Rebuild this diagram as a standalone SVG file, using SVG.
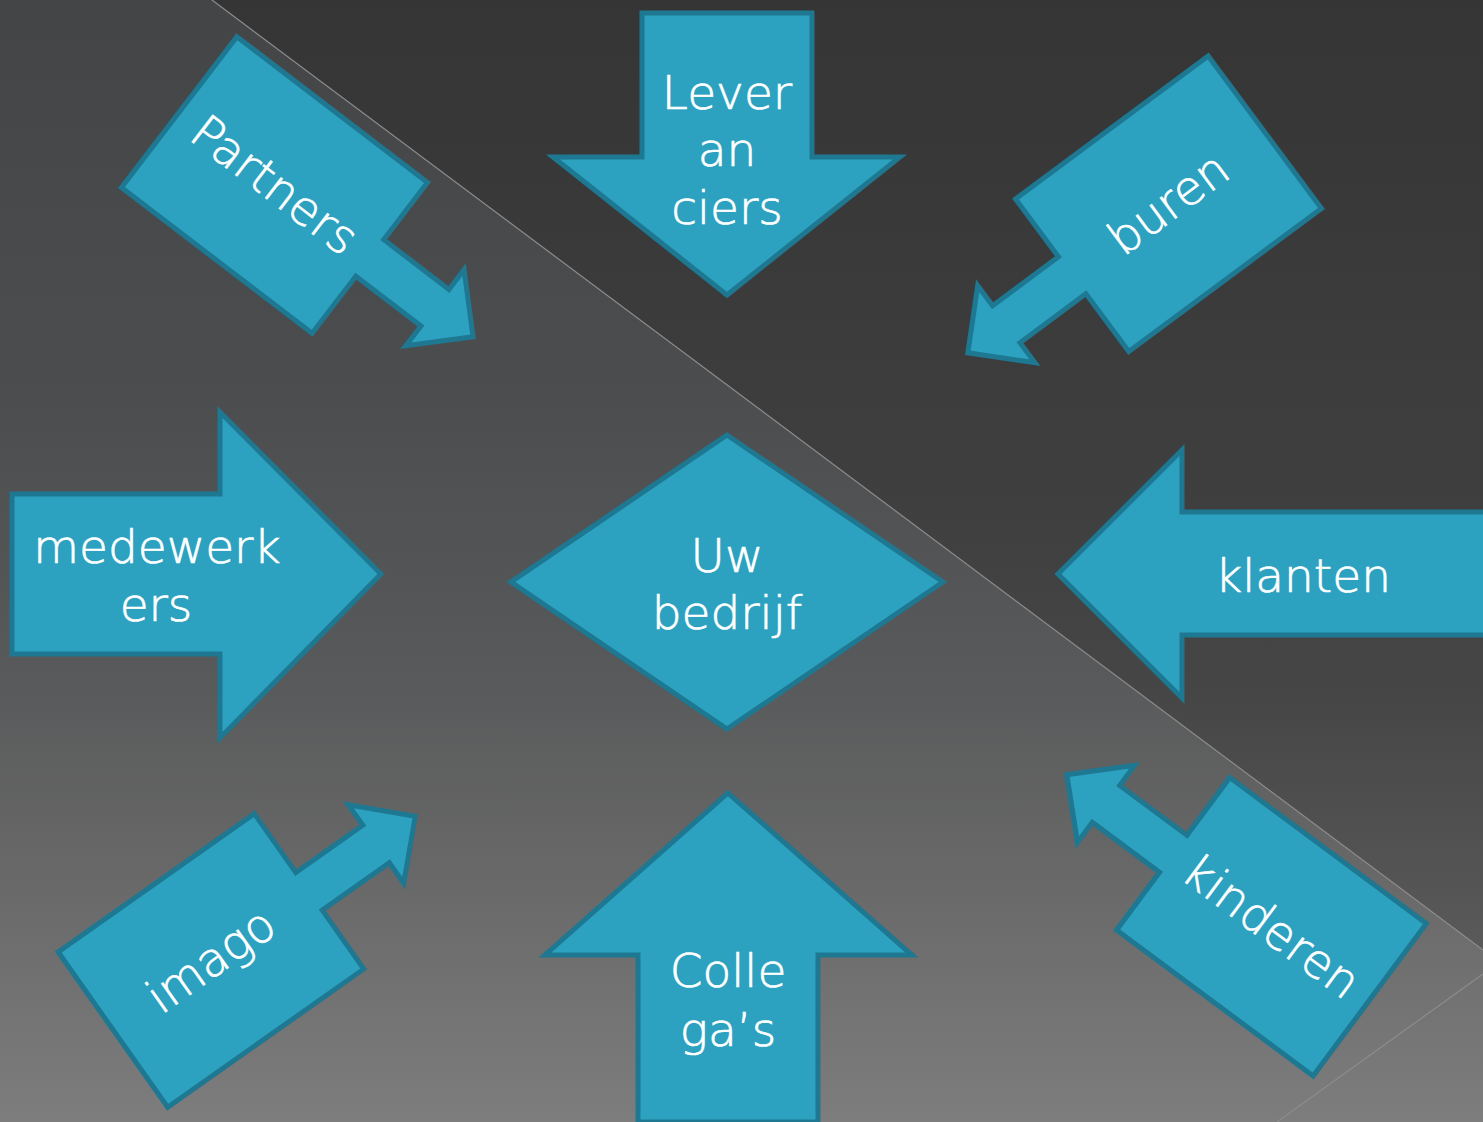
<svg xmlns="http://www.w3.org/2000/svg" width="1483" height="1122" viewBox="0 0 1483 1122">
  <defs>
    <linearGradient id="bgDark" x1="0" y1="0" x2="0" y2="1122" gradientUnits="userSpaceOnUse">
      <stop offset="0" stop-color="#353535"/>
      <stop offset="0.45" stop-color="#3f3f3f"/>
      <stop offset="0.62" stop-color="#464646"/>
      <stop offset="0.85" stop-color="#5a5a5a"/>
      <stop offset="1" stop-color="#666666"/>
    </linearGradient>
    <linearGradient id="bgLight" x1="0" y1="0" x2="0" y2="1122" gradientUnits="userSpaceOnUse">
      <stop offset="0" stop-color="#444546"/>
      <stop offset="0.35" stop-color="#4c4d4f"/>
      <stop offset="0.6" stop-color="#58595a"/>
      <stop offset="0.8" stop-color="#6a6a6a"/>
      <stop offset="1" stop-color="#7d7d7d"/>
    </linearGradient>
    <path id="callout" d="M -120 -95 L 120 -95 L 120 -23 L 202 -23 L 202 -48 L 250 0 L 202 48 L 202 23 L 120 23 L 120 95 L -120 95 Z"/>
  </defs>
  <style>
    .shape { fill: #2ca2c0; stroke: #1e7891; stroke-width: 5; stroke-linejoin: miter; }
    .lbl { font-family: "DejaVu Sans", "Liberation Sans", sans-serif; font-weight: 300; font-size: 47px; fill: #ffffff; stroke: #ffffff; stroke-width: 0.7; text-anchor: middle; }
    .edge { stroke: #8c8c8c; stroke-width: 1.2; fill: none; }
  </style>

  <g id="background">
    <rect x="0" y="0" width="1483" height="1122" fill="url(#bgDark)"/>
    <polygon points="0,0 212,0 1483,950 1483,1122 0,1122" fill="url(#bgLight)"/>
    <line class="edge" x1="212" y1="0" x2="1483" y2="950"/>
    <line class="edge" x1="1277" y1="1122" x2="1483" y2="974"/>
  </g>

  <g id="connectors"/>

  <g id="node-leveranciers">
    <polygon class="shape" points="642,13 812,13 812,157 900,157 727,295 553,157 642,157"/>
    <text class="lbl" x="727" y="109">Lever</text>
    <text class="lbl" x="727" y="166">an</text>
    <text class="lbl" x="727" y="224">ciers</text>
  </g>

  <g id="node-medewerkers">
    <polygon class="shape" points="12,494 220,494 220,412 381,574 220,738 220,654 12,654"/>
    <text class="lbl" x="157" y="563">medewerk</text>
    <text class="lbl" x="156" y="621">ers</text>
  </g>

  <g id="node-bedrijf">
    <polygon class="shape" points="727,435 943,582 727,729 511,582"/>
    <text class="lbl" x="727" y="572">Uw</text>
    <text class="lbl" x="727" y="629">bedrijf</text>
  </g>

  <g id="node-klanten">
    <polygon class="shape" points="1490,512 1182,512 1182,450 1058,574 1182,698 1182,635 1490,635"/>
    <text class="lbl" x="1303" y="592">klanten</text>
  </g>

  <g id="node-collegas">
    <polygon class="shape" points="728,793 912,955 818,955 818,1122 638,1122 638,955 545,955"/>
    <text class="lbl" x="728" y="987">Colle</text>
    <text class="lbl" x="728" y="1046">ga’s</text>
  </g>

  <g id="node-partners">
    <use href="#callout" class="shape" transform="translate(274.5,185) rotate(37.4)"/>
    <text class="lbl" transform="translate(274.5,185) rotate(37.4)" x="0" y="16">Partners</text>
  </g>

  <g id="node-buren">
    <use href="#callout" class="shape" transform="translate(1168.5,203.75) rotate(143.4)"/>
    <text class="lbl" transform="translate(1168.5,203.75) rotate(-36.6)" x="0" y="16">buren</text>
  </g>

  <g id="node-kinderen">
    <use href="#callout" class="shape" transform="translate(1271.5,926.75) rotate(216.6) scale(1.02,1)"/>
    <text class="lbl" transform="translate(1271.5,926.75) rotate(36.6)" x="0" y="16">kinderen</text>
  </g>

  <g id="node-imago">
    <use href="#callout" class="shape" transform="translate(211,960.5) rotate(-35.2)"/>
    <text class="lbl" transform="translate(211,960.5) rotate(-35.2)" x="0" y="16">imago</text>
  </g>
</svg>
